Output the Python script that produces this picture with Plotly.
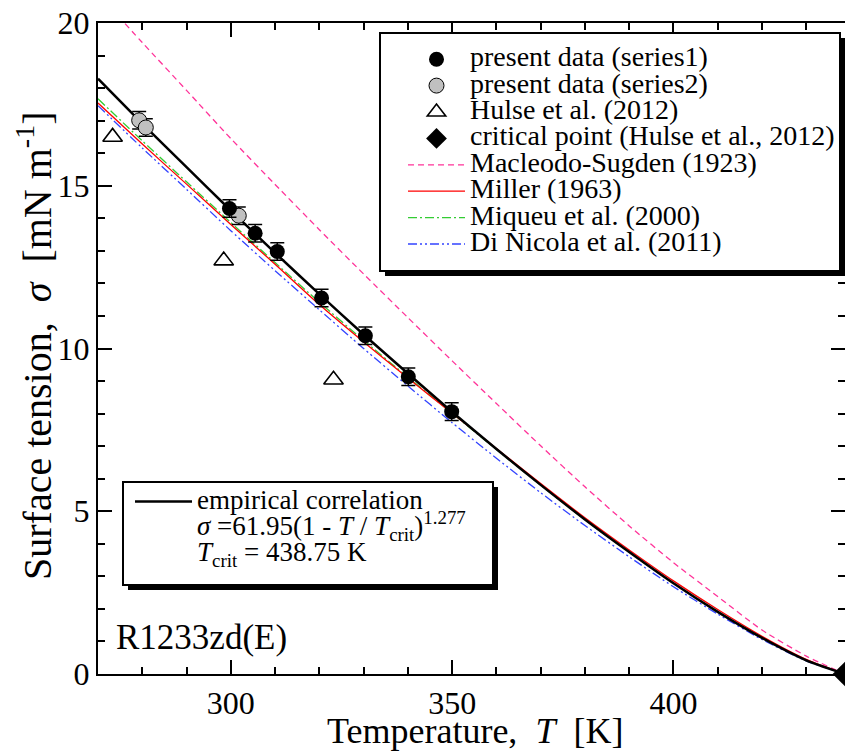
import plotly.graph_objects as go

# ---------- data ----------
series1_T = [299.7, 305.5, 310.5, 320.5, 330.4, 340.1, 349.9]
series1_sigma = [14.30, 13.54, 12.98, 11.55, 10.39, 9.13, 8.06]
series1_err = [0.27, 0.27, 0.27, 0.27, 0.27, 0.27, 0.27]

series2_T = [279.3, 280.8, 301.8]
series2_sigma = [17.01, 16.79, 14.08]
series2_err = [0.27, 0.27, 0.27]

hulse_T = [273.3, 298.4, 323.2]
hulse_sigma = [16.50, 12.70, 9.04]

crit_T = [438.75]
crit_sigma = [0.0]

# curves, read every 10 K (last point = critical temperature)
curve_T = [270, 280, 290, 300, 310, 320, 330, 340, 350, 360,
           370, 380, 390, 400, 410, 420, 430, 438.75]
empirical = [18.29, 16.91, 15.57, 14.24, 12.94, 11.67, 10.43, 9.23, 8.05, 6.91,
             5.81, 4.75, 3.75, 2.79, 1.91, 1.11, 0.42, 0.0]
macleod = [20.90, 19.40, 17.93, 16.45, 15.04, 13.65, 12.29, 10.95, 9.62, 8.31,
           7.01, 5.75, 4.55, 3.42, 2.38, 1.35, 0.55, 0.0]
miller = [17.54, 16.28, 15.05, 13.81, 12.59, 11.35, 10.20, 9.09, 8.01, 6.93,
          5.85, 4.80, 3.81, 2.86, 1.98, 1.16, 0.45, 0.0]
miqueu = [17.67, 16.38, 15.12, 13.87, 12.64, 11.42, 10.25, 9.12, 8.01, 6.90,
          5.80, 4.74, 3.74, 2.79, 1.91, 1.11, 0.42, 0.0]
dinicola = [17.46, 16.16, 14.89, 13.62, 12.39, 11.19, 10.00, 8.85, 7.72, 6.63,
            5.57, 4.56, 3.60, 2.68, 1.84, 1.06, 0.40, 0.0]

FONT = "Liberation Serif"


def big(txt, size=28):
    # explicit family on the span so tagged text (<i>, <sub>) stays serif
    return f'<span style="font-family:{FONT};font-size:{size}px">{txt}</span>'


def it(txt):
    return f'<span style="font-family:{FONT};font-style:italic">{txt}</span>'


fig = go.Figure()

# ---------- model curves ----------
curve_specs = [
    ("Macleodo-Sugden (1923)", macleod, "#ff3399", "6px,4px", 5),
    ("Di Nicola et al. (2011)", dinicola, "#3344ff", "9px,3px,2px,3px,2px,3px", 8),
    ("Miqueu et al. (2000)", miqueu, "#33cc33", "9px,3px,2px,3px", 7),
    ("Miller (1963)", miller, "#ff0000", "solid", 6),
]
for name, ys, col, dash, rank in curve_specs:
    fig.add_trace(go.Scatter(
        x=curve_T, y=ys, mode="lines", name=big(name),
        line=dict(color=col, width=1.3, dash=dash, shape="spline", smoothing=0.6),
        legendrank=rank, legend="legend",
    ))

fig.add_trace(go.Scatter(
    x=curve_T, y=empirical, mode="lines",
    name=big("empirical correlation", 27) + "<br>"
    + big(it("σ") + " =61.95(1 - " + it("T") + " / " + it("T")
          + "<sub>crit</sub>)<sup>1.277</sup>", 27)
    + "<br>" + big(it("T") + "<sub>crit</sub> = 438.75 K", 27),
    line=dict(color="black", width=2.5, shape="spline", smoothing=0.6),
    legend="legend2",
))

# ---------- measured points ----------
fig.add_trace(go.Scatter(
    x=hulse_T, y=hulse_sigma, mode="markers", name=big("Hulse et al. (2012)"),
    marker=dict(symbol="triangle-up-open", size=17, color="black", line=dict(width=1.6)),
    legendrank=3,
))
fig.add_trace(go.Scatter(
    x=series2_T, y=series2_sigma, mode="markers", name=big("present data (series2)"),
    marker=dict(symbol="circle", size=15, color="#c0c0c0", line=dict(color="black", width=1)),
    error_y=dict(type="data", array=series2_err, color="black", thickness=1.5, width=7),
    legendrank=2,
))
fig.add_trace(go.Scatter(
    x=series1_T, y=series1_sigma, mode="markers", name=big("present data (series1)"),
    marker=dict(symbol="circle", size=15, color="black"),
    error_y=dict(type="data", array=series1_err, color="black", thickness=1.5, width=7),
    legendrank=1,
))
fig.add_trace(go.Scatter(
    x=crit_T, y=crit_sigma, mode="markers", name=big("critical point (Hulse et al., 2012)"),
    marker=dict(symbol="diamond", size=19, color="black"),
    cliponaxis=False, legendrank=4,
))

# ---------- legend boxes (shadow + frame) ----------
def px_x(v):
    return (v - 98) / 747


def px_y(v):
    return (674 - v) / 651


shapes = []
for x0, y0, x1, y1 in [(380, 33, 840, 271), (123, 482, 493, 585)]:
    shapes.append(dict(type="rect", xref="paper", yref="paper",
                       x0=px_x(x0 + 5), x1=px_x(x1 + 5), y0=px_y(y0 + 5), y1=px_y(y1 + 5),
                       fillcolor="black", line=dict(width=0), layer="above"))
    shapes.append(dict(type="rect", xref="paper", yref="paper",
                       x0=px_x(x0), x1=px_x(x1), y0=px_y(y0), y1=px_y(y1),
                       fillcolor="white", line=dict(color="black", width=2), layer="above"))

axis_common = dict(
    showline=True, linecolor="black", linewidth=2, mirror="allticks",
    ticks="inside", ticklen=14, tickwidth=2, tickcolor="black",
    showgrid=False, zeroline=False,
    tickfont=dict(family=FONT, size=32, color="black"),
)

# axis titles as annotations
annotations = [
    dict(text=big("Temperature,\u00a0\u00a0" + it("T") + "\u00a0\u00a0[K]", 36),
         xref="paper", yref="paper", x=px_x(475), y=px_y(731),
         xanchor="center", yanchor="middle", showarrow=False,
         font=dict(family=FONT, size=36, color="black")),
    dict(text=big("Surface tension,\u00a0\u00a0" + it("σ") + "\u00a0\u00a0[mN m<sup>-1</sup>]", 40),
         xref="paper", yref="paper", x=px_x(34), y=px_y(346), textangle=-90,
         xanchor="center", yanchor="middle", showarrow=False,
         font=dict(family=FONT, size=40, color="black")),
    dict(text="R1233zd(E)", xref="paper", yref="paper", x=px_x(114), y=px_y(637),
         xanchor="left", yanchor="middle", showarrow=False,
         font=dict(family=FONT, size=35, color="black")),
]

fig.update_layout(
    template="none",
    width=845, height=752,
    margin=dict(l=98, r=0, t=23, b=78),
    paper_bgcolor="white", plot_bgcolor="white",
    font=dict(family=FONT, color="black"),
    shapes=shapes,
    annotations=annotations,
    xaxis=dict(
        range=[270, 438.75], dtick=50,
        minor=dict(dtick=10, ticks="inside", ticklen=7, tickwidth=1.5, tickcolor="black"),
        **axis_common,
    ),
    yaxis=dict(
        range=[0, 20], dtick=5,
        minor=dict(dtick=1, ticks="inside", ticklen=7, tickwidth=1.5, tickcolor="black"),
        **axis_common,
    ),
    legend=dict(
        x=px_x(403), y=px_y(41), xanchor="left", yanchor="top",
        bgcolor="rgba(0,0,0,0)", borderwidth=0, itemwidth=57,
        font=dict(family=FONT, size=18, color="black"),
        traceorder="normal", tracegroupgap=0,
    ),
    legend2=dict(
        x=px_x(130), y=px_y(482), xanchor="left", yanchor="top",
        bgcolor="rgba(0,0,0,0)", borderwidth=0, itemwidth=57, valign="top",
        font=dict(family=FONT, size=20, color="black"),
    ),
)

# page body has a default 8px margin; drop it so the figure sits at the window corner
fig.write_html("out.html", config={"displayModeBar": False},
               post_script="document.body.style.margin='0';")
